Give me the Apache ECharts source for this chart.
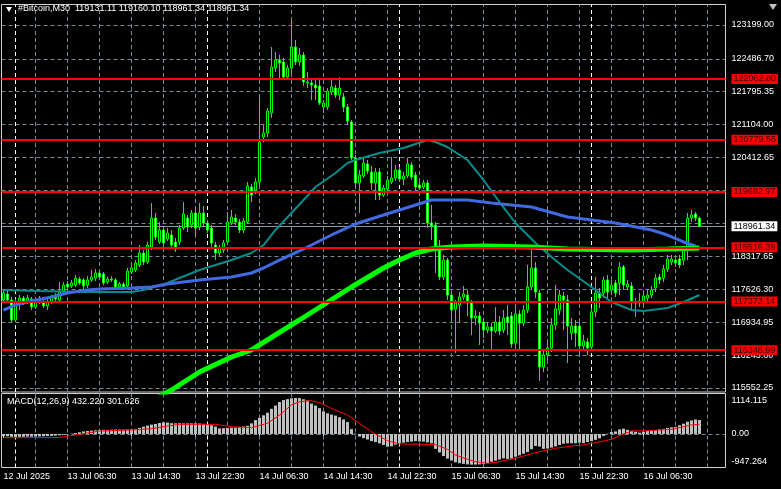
<!DOCTYPE html>
<html><head><meta charset="utf-8">
<script src="https://cdn.jsdelivr.net/npm/echarts@6/dist/echarts.min.js"></script>
<style>html,body{margin:0;padding:0;background:#000;}#c{width:781px;height:489px;}</style>
</head><body><div id="c"></div>
<script>
// ---------- data ----------
const chartTitle = '#Bitcoin,M30  119131.11 119160.10 118961.34 118961.34';
const macdTitle = 'MACD(12,26,9) 432.220 301.626';
const tickLabels = ['12 Jul 2025','13 Jul 06:30','13 Jul 14:30','13 Jul 22:30','14 Jul 06:30','14 Jul 14:30','14 Jul 22:30','15 Jul 06:30','15 Jul 14:30','15 Jul 22:30','16 Jul 06:30'];
const priceTicks = [123199.00,122486.70,121795.35,121104.00,120412.65,119721.30,119029.95,118317.65,117626.30,116934.95,116243.60,115552.25];
const hiddenTickLabels = [119721.30,119029.95];
const levels = [122062.80,120779.56,119682.97,118516.39,117373.14,116348.99];
const bidPrice = 118961.34;
const macdTicks = [1114.115, 0, -947.264];
// candles: [open, close, low, high]
const candles = [
[117406,117553,117364,117638],[117532,117406,117343,117595],[117406,116985,116942,117469],[116985,117364,116942,117427],
[117343,117448,117195,117511],[117448,117364,117301,117490],[117364,117448,117322,117511],[117427,117258,117195,117469],
[117258,117385,117216,117427],[117364,117427,117322,117490],[117364,117280,117237,117406],[117280,117364,117195,117427],
[117364,117469,117322,117511],[117469,117427,117385,117553],[117406,117574,117364,117785],[117574,117722,117532,117785],
[117743,117680,117638,117806],[117701,117764,117659,117827],[117722,117869,117680,117932],[117848,117764,117722,117890],
[117827,117701,117617,117869],[117722,117827,117659,117911],[117827,117890,117785,118038],[117869,117975,117806,118059],
[117975,117890,117848,118017],[117954,117764,117722,117996],[117785,117848,117743,117890],[117848,117827,117785,117911],
[117827,117680,117638,117869],[117680,117743,117638,117785],[117743,117680,117617,117785],[117701,118017,117659,118080],
[117996,118080,117954,118185],[118038,118185,117996,118248],[118143,118396,118101,118564],[118396,118206,118143,118459],
[118206,118564,118164,118628],[118522,119133,118459,119449],[119133,118733,118670,119239],[118628,118880,118586,119049],
[118880,118607,118522,118965],[118691,118817,118649,118923],[118775,118564,118501,118880],[118628,118480,118417,118712],
[118628,118923,118564,118986],[118923,119218,118880,119470],[119133,118944,118838,119196],[118986,119239,118923,119302],
[119239,118923,118775,119344],[118944,119239,118880,119449],[119239,119028,118965,119386],[119028,118880,118817,119091],
[118923,118607,118501,118986],[118564,118396,118248,118628],[118396,118501,118333,118564],[118459,118607,118396,118670],
[118628,119049,118586,119260],[119028,119154,118986,119302],[119133,119049,118986,119218],[119049,118880,118817,119112],
[118880,119070,118817,119133],[119049,119807,119007,119892],[119786,119618,119470,119850],[119723,119892,119639,119976],
[119892,120734,119828,121682],[120840,120924,120734,121092],[120924,121387,120840,121451],[121345,122314,121240,122736],
[122293,122462,122209,122630],[122462,122398,122083,122567],[122420,122104,122040,122504],[122104,122293,122040,122356],
[122293,122736,122146,123283],[122736,122420,122356,122883],[122420,122567,122335,122714],[122567,121998,121914,122630],
[121977,121998,121872,122209],[121977,121935,121619,122040],[121935,121872,121619,122040],[121914,121556,121514,122040],
[121472,121556,121345,121619],[121472,121809,121408,121872],[121788,121893,121724,122040],[121872,121724,121661,121935],
[121724,121872,121619,122104],[121682,121472,121366,121767],[121472,121177,121092,121535],[121156,120397,120355,121198],
[120397,119871,119765,120460],[119871,120039,119239,120144],[120018,120292,119976,120397],[120271,120123,120060,120355],
[120102,119871,119723,120229],[119871,120102,119512,120187],[120102,119618,119512,120187],[119618,119765,119576,119828],
[119744,119934,119681,120018],[119892,119976,119850,120418],[119976,120144,119913,120250],[120144,119955,119892,120208],
[119955,120018,119828,120102],[120018,120271,119976,120397],[120250,119997,119934,120313],[120039,119786,119723,120102],
[119828,119765,119723,119892],[119786,119871,119744,119934],[119871,119028,118923,119934],[119028,118965,118670,119407],
[118986,118543,117975,119049],[118501,117890,117827,118670],[117890,118248,117827,118354],[118248,117511,117406,118291],
[117511,117195,116985,117553],[117216,117343,116289,117406],[117301,117469,116942,117574],[117469,117532,117406,117701],
[117511,117343,117069,117617],[117343,117027,116669,117406],[117027,117069,116879,117195],[117069,116921,116458,117153],
[116942,116774,116605,117027],[116774,116837,116711,116942],[116837,116753,116353,116921],[116753,116942,116711,117258],
[116942,116753,116669,117069],[116774,117027,116711,117195],[117048,116942,116669,117301],[117069,116479,116395,117153],
[116500,117111,116437,117301],[117111,116921,116353,117195],[116921,117195,116858,117301],[117195,117680,117132,118143],
[117680,118080,117617,118459],[118080,117574,117448,118206],[117553,115994,115700,117617],[115994,116247,115889,116353],
[116247,116395,116142,116563],[116395,116879,116310,117027],[116879,117216,116774,117722],[117195,117511,117090,117617],
[117490,117406,116774,117574],[117406,116858,116079,117511],[116711,116858,116563,117027],[116858,116711,116416,116985],
[116858,116437,116205,116942],[116437,116542,116353,116669],[116521,116395,116247,116605],[116416,117153,116353,117237],
[117153,117553,117048,117890],[117553,117448,117237,117659],[117553,117827,117448,117890],[117827,117574,117448,117932],
[117617,117722,117511,117827],[117764,117553,117469,117827],[117764,118101,117511,118206],[118101,117722,117617,118143],
[117680,117743,117617,117827],[117701,117364,117195,117785],[117364,117343,117048,117448],[117343,117385,117258,117553],
[117364,117490,117301,117574],[117448,117511,117364,117617],[117511,117617,117448,117701],[117659,117869,117574,117954],
[117890,117827,117743,117954],[117869,118059,117785,118143],[118059,118270,117996,118354],[118206,118270,118143,118354],
[118248,118185,118101,118333],[118270,118143,118080,118354],[118248,118459,118143,118543],[118459,119133,118248,119239],
[119133,119196,119049,119302],[119218,119133,119070,119260],[119131.11,118961.34,118961.34,119160.10]
];
// moving averages read at selected bars: [barIndex, price]
const maTeal = [[0,117616],[9,117595],[21,117574],[32,117574],[35,117616],[41,117764],[44,117869],[49,118038],[57,118248],[62,118396],[65,118564],[68,118881],[72,119239],[78,119786],[83,120081],[86,120292],[88,120355],[94,120503],[100,120608],[106,120776],[108,120734],[111,120629],[116,120355],[120,119934],[124,119470],[128,119028],[133,118607],[137,118312],[141,118038],[147,117680],[152,117364],[157,117195],[160,117174],[166,117237],[170,117364],[174,117511]];
const maBlue = [[0,117195],[3,117301],[7,117385],[12,117469],[16,117553],[21,117616],[24,117638],[32,117659],[37,117680],[41,117743],[49,117827],[57,117890],[62,117975],[65,118080],[69,118248],[76,118522],[83,118817],[88,119007],[95,119196],[103,119407],[107,119512],[116,119512],[122,119449],[132,119365],[141,119154],[153,119028],[162,118881],[166,118775],[170,118628],[173,118543]];
const maGreen = [[38,115330],[42,115510],[49,115889],[57,116205],[62,116353],[74,116985],[87,117680],[95,118080],[99,118248],[103,118396],[107,118480],[112,118522],[120,118543],[132,118522],[141,118480],[157,118459],[166,118480],[174,118501]];
const macdHist = [
-60,-70,-85,-90,-88,-85,-80,-82,-78,-75,-70,-65,-60,-50,-40,-25,
-10,10,30,55,80, 95,105,115,124, 130,128,135,140,138,135,140,144,
160,190,227, 260,290,309, 340,361,355, 335,330,335,328, 330,332,330,325,315,
290,270,230, 175,180,190,196,200, 215,235,255,
330,430,500,580,660,780,880,990,1050,1080,1105,1114.115,1110,1075,1040,
940,880,800,700,640,600,570,520,450,370,150,10,-80,-130,-170,-220,-250,-290,-340,-392,
-380,-330,-290,-270,-250,-237,-220,-230,-237,-260,-289,
-460,-570,-680,-760,-820,-876,-905,-925,-940,-947.264,-945,-940,-930,-900,-860,-825,-790,-753,-770,-760,
-701,-660,-610,-560,-470,-371,-390,-460,-450,-420,-385,-340,-300,-289,-285,-289,-270,-285,-250,
-220,-180,-134,-60,10,60,80,144,165,130,100,72,41,
70,90,110,124,144,160,185,206,220,270,320,380,420,450,432.22
];
const macdSignal = [[0,-113],[14,-108],[18,-30],[24,93],[32,124],[37,165],[41,247],[44,299],[53,299],[57,227],[62,196],[66,330],[69,588],[72,897],[74,1000],[77,1031],[79,969],[82,794],[86,588],[89,330],[92,72],[96,-210],[99,-309],[105,-320],[108,-330],[111,-474],[113,-650],[116,-784],[118,-856],[121,-907],[123,-880],[126,-804],[128,-753],[131,-650],[133,-577],[136,-495],[138,-443],[142,-371],[145,-340],[148,-268],[152,-165],[155,0],[157,93],[161,103],[164,124],[167,144],[170,227],[172,280],[174,301.626]];
const daySeparators = [3,51,99,147];
const NCAT = 181;

// ---------- chart ----------
const FONT = '"Liberation Sans", Arial, sans-serif';
const cats = Array.from({length: NCAT}, (_, i) => String(i));
const gridCols = [];
for (let i = 8; i < NCAT; i += 8) gridCols.push(i);
const dash = [4, 3];
const vLines = gridCols.map(i => ({xAxis: i, lineStyle: {color: '#7a8796', type: dash, width: 1}, label: {show: false}}))
  .concat(daySeparators.map(i => ({xAxis: i, lineStyle: {color: '#ffffff', type: dash, width: 1}, label: {show: false}})));
const hLines = priceTicks.map(v => ({
  yAxis: v,
  lineStyle: {color: '#7a8796', type: dash, width: 1},
  label: {show: hiddenTickLabels.indexOf(v) < 0, formatter: v.toFixed(2)}
}));
const labelBase = {position: 'end', distance: 6, color: '#ffffff', fontSize: 9, fontFamily: FONT};
const tickShow = (i) => i % 16 === 0 && i / 16 < tickLabels.length;

const option = {
  backgroundColor: '#000000',
  animation: false,
  title: [
    {text: chartTitle, left: 18, top: 4, padding: 0, textStyle: {color: '#ffffff', fontSize: 9, fontWeight: 'normal', fontFamily: FONT}},
    {text: macdTitle, left: 7, top: 397, padding: 0, textStyle: {color: '#ffffff', fontSize: 9, fontWeight: 'normal', fontFamily: FONT}}
  ],
  graphic: [
    {type: 'polygon', shape: {points: [[6, 7], [12, 7], [9, 12]]}, style: {fill: '#ffffff'}},
    {type: 'polygon', shape: {points: [[769, 4], [777, 4], [773, 10]]}, style: {fill: '#c0c0c0'}}
  ],
  grid: [
    {left: 1.5, top: 4.5, width: 724, height: 387.5, show: true, borderColor: '#d0d0d0', borderWidth: 1, backgroundColor: 'transparent'},
    {left: 1.5, top: 393.5, width: 724, height: 74, show: true, borderColor: '#d0d0d0', borderWidth: 1, backgroundColor: 'transparent'}
  ],
  xAxis: [
    {type: 'category', gridIndex: 0, data: cats, boundaryGap: true, axisLine: {show: false}, axisTick: {show: false}, axisLabel: {show: false}, splitLine: {show: false}},
    {type: 'category', gridIndex: 1, data: cats, boundaryGap: true, axisLine: {show: false},
      axisTick: {show: true, interval: tickShow, alignWithLabel: true, length: 4, lineStyle: {color: '#ffffff'}},
      axisLabel: {show: true, interval: tickShow, formatter: (v, i) => tickLabels[i / 16], align: 'left', color: '#ffffff', fontSize: 9, fontFamily: FONT, margin: 5},
      splitLine: {show: false}}
  ],
  yAxis: [
    {type: 'value', gridIndex: 0, min: 115468, max: 123631, show: false, splitLine: {show: false}},
    {type: 'value', gridIndex: 1, min: -1036, max: 1253, show: false, splitLine: {show: false}}
  ],
  series: [
    {
      type: 'candlestick', xAxisIndex: 0, yAxisIndex: 0, data: candles, barWidth: 3, z: 2,
      itemStyle: {color: '#000000', color0: '#ffffff', borderColor: '#00ff00', borderColor0: '#00ff00', borderWidth: 1},
      markLine: {
        silent: true, z: 1, symbol: ['none', 'none'], animation: false,
        label: labelBase,
        data: hLines.concat(vLines).concat([{
          yAxis: bidPrice, lineStyle: {color: '#8a99a8', type: 'solid', width: 1},
          label: {show: true, formatter: bidPrice.toFixed(2), backgroundColor: '#ffffff', color: '#000000', padding: [1, 2, 0, 2]}
        }])
      }
    },
    {type: 'line', name: 'teal', xAxisIndex: 0, yAxisIndex: 0, data: maTeal, symbol: 'none', z: 3, lineStyle: {color: '#0a8c8c', width: 2}},
    {type: 'line', name: 'blue', xAxisIndex: 0, yAxisIndex: 0, data: maBlue, symbol: 'none', z: 3, lineStyle: {color: '#4169e1', width: 3}},
    {
      type: 'line', name: 'green', xAxisIndex: 0, yAxisIndex: 0, data: maGreen, symbol: 'none', z: 3, lineStyle: {color: '#00ff00', width: 5},
      markLine: {
        silent: true, z: 5, symbol: ['none', 'none'], animation: false,
        label: labelBase,
        data: levels.map(v => ({
          yAxis: v, lineStyle: {color: '#ff0000', width: 2, type: 'solid'},
          label: {show: true, formatter: v.toFixed(2), backgroundColor: '#ff0000', color: '#300000', padding: [1, 2, 0, 2]}
        }))
      }
    },
    {
      type: 'bar', xAxisIndex: 1, yAxisIndex: 1, data: macdHist, barWidth: 3, z: 2,
      itemStyle: {color: '#c0c0c0'},
      markLine: {
        silent: true, z: 1, symbol: ['none', 'none'], animation: false,
        label: labelBase,
        data: vLines.concat([
          {yAxis: macdTicks[0], lineStyle: {color: 'rgba(0,0,0,0)'}, label: {formatter: '1114.115', offset: [0, 3]}},
          {yAxis: macdTicks[1], lineStyle: {color: '#7a8796', type: dash, width: 1}, label: {formatter: '0.00'}},
          {yAxis: macdTicks[2], lineStyle: {color: 'rgba(0,0,0,0)'}, label: {formatter: '-947.264', offset: [0, -3]}}
        ])
      }
    },
    {type: 'line', xAxisIndex: 1, yAxisIndex: 1, data: macdSignal, symbol: 'none', z: 3, lineStyle: {color: '#ff0000', width: 1}}
  ]
};
const chart = echarts.init(document.getElementById('c'), null, {renderer: 'canvas'});
chart.setOption(option);
</script>
</body></html>
